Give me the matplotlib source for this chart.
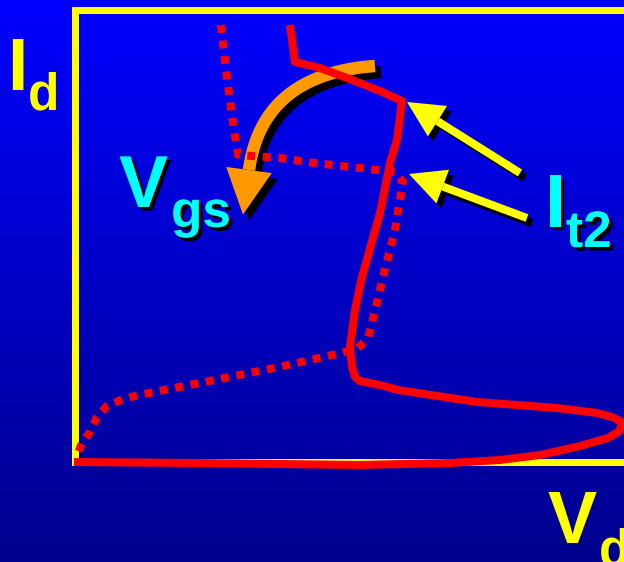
import numpy as np
import matplotlib
matplotlib.use('Agg')
import matplotlib.pyplot as plt
import matplotlib.patheffects as pe
from matplotlib.patches import Polygon

# diagram geometry, in pixel units of the 624x562 slide (y grows downwards)
solid_x = [290, 295, 320, 347, 380, 402, 397, 390, 380, 362, 355, 350, 352, 355, 360, 380,
           398, 477, 557, 597, 612, 620, 622, 618, 608, 580, 540, 500, 450, 358, 199, 74]
solid_y = [25, 62, 68, 78, 91, 101, 140, 163, 213, 277, 310, 347, 367, 377, 381, 385,
           390, 402, 408, 413, 417, 421, 426, 432, 438, 446, 455, 460, 463, 465, 463, 462]

dotted_x = [221, 226, 232, 238, 280, 315, 395, 403, 399, 395, 383, 380, 372, 368, 358,
            341, 279, 199, 139, 123, 107, 97, 90, 82, 76]
dotted_y = [25, 70, 115, 155, 158, 163, 172, 182, 205, 230, 277, 290, 323, 338, 348,
            353, 367, 383, 395, 399, 406, 417, 432, 443, 458]

# Vgs arrow: quadratic bezier control points
vgs_ctrl = [(375, 66), (262, 74), (249, 170)]

# It2 arrows: (tail, tip)
it2_arrows = [((520, 173), (407, 102)), ((527, 218), (409, 174))]

box_left, box_top, box_bottom = 75, 10, 462

W, H = 624, 562
YELLOW = '#ffff00'
CYAN = '#00ffff'
RED = '#ff0000'
ORANGE = '#ff9900'


def px(v):
    return v * 0.72


fig = plt.figure(figsize=(6.24, 5.62), dpi=100)
ax = fig.add_axes([0, 0, 1, 1])
ax.set_xlim(0, W)
ax.set_ylim(H, 0)
ax.axis('off')

# background gradient
grad = np.linspace(255, 140, 256) / 255.0
bg = np.zeros((256, 1, 3))
bg[:, 0, 2] = grad
ax.imshow(bg, extent=[0, W, H, 0], aspect='auto', zorder=0)

# yellow axes box
ax.plot([W + 10, box_left, box_left, W + 10], [box_top, box_top, box_bottom, box_bottom],
        color=YELLOW, lw=px(7), solid_joinstyle='miter', zorder=1)

# orange curved arrow with shadow
t = np.linspace(0, 1, 60)[:, None]
p0, p1, p2 = [np.array(p, float) for p in vgs_ctrl]
curve = (1 - t) ** 2 * p0 + 2 * (1 - t) * t * p1 + t ** 2 * p2
d = (p2 - p1) / np.linalg.norm(p2 - p1)
perp = np.array([-d[1], d[0]])
head = np.array([p2 + perp * 23, p2 + d * 45, p2 - perp * 23])
for off, col, z in [(6, 'black', 2), (0, ORANGE, 3)]:
    ax.plot(curve[:, 0] + off, curve[:, 1] + off, color=col, lw=px(12.5),
            solid_capstyle='butt', zorder=z)
    ax.add_patch(Polygon(head + off, closed=True, color=col, lw=0, zorder=z))

# red curves
ax.plot(dotted_x, dotted_y, color=RED, lw=px(8), linestyle=(0, (1.0, 0.95)),
        dash_capstyle='butt', zorder=4)
ax.plot(solid_x, solid_y, color=RED, lw=px(8), solid_joinstyle='round',
        solid_capstyle='butt', zorder=5)

# yellow straight arrows with shadow
for tail, tip in it2_arrows:
    tail = np.array(tail, float)
    tip = np.array(tip, float)
    d = (tip - tail) / np.linalg.norm(tip - tail)
    perp = np.array([-d[1], d[0]])
    base = tip - d * 36
    head = np.array([base + perp * 18, tip, base - perp * 18])
    for off, col, z in [(5, 'black', 6), (0, YELLOW, 7)]:
        ax.plot([tail[0] + off, base[0] + off], [tail[1] + off, base[1] + off],
                color=col, lw=px(8), solid_capstyle='butt', zorder=z)
        ax.add_patch(Polygon(head + off, closed=True, color=col, lw=0, zorder=z))

# labels
font = dict(family='Liberation Sans', weight='bold', va='baseline', ha='left', zorder=10)
shadow = [pe.withSimplePatchShadow(offset=(2.5, -2.5), shadow_rgbFace='black', alpha=1.0)]

ax.text(7, 90, 'I', color=YELLOW, fontsize=53, **font)
ax.text(28, 110, 'd', color=YELLOW, fontsize=37, **font)

ax.text(119, 207, 'V', color=CYAN, fontsize=53, path_effects=shadow, **font)
ax.text(171, 227, 'gs', color=CYAN, fontsize=37, path_effects=shadow, **font)

ax.text(545, 227, 'I', color=CYAN, fontsize=54, path_effects=shadow, **font)
ax.text(566, 247, 't2', color=CYAN, fontsize=37, path_effects=shadow, **font)

ax.text(548, 543, 'V', color=YELLOW, fontsize=53, **font)
ax.text(599, 565, 'd', color=YELLOW, fontsize=37, **font)

fig.savefig('out.png', dpi=100)
